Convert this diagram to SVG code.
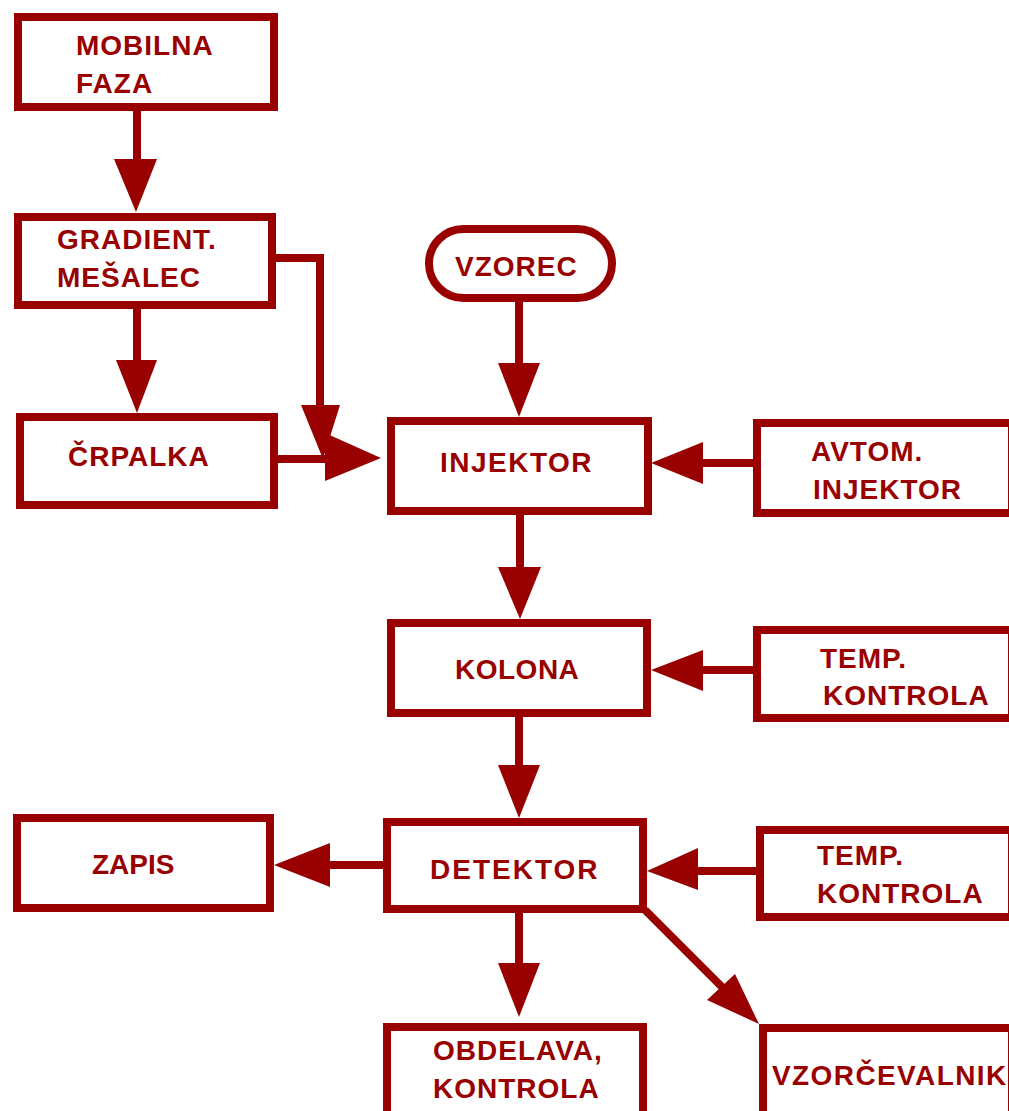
<svg xmlns="http://www.w3.org/2000/svg" width="1009" height="1111" viewBox="0 0 1009 1111">
<style>
.box{fill:#fff;stroke:#990000;stroke-width:8}
.ln{fill:none;stroke:#990000;stroke-width:8}
.ah{fill:#990000;stroke:none}
text{font-family:"Liberation Sans",Arial,sans-serif;font-weight:bold;font-size:28px;fill:#990000;letter-spacing:1px}
</style>
<rect x="0" y="0" width="1009" height="1111" fill="#fff"/>
<g id="connectors">
<line class="ln" x1="137" y1="111" x2="137" y2="162"/>
<polygon class="ah" points="114,159 157,159 136,212"/>
<line class="ln" x1="137" y1="309" x2="137" y2="362"/>
<polygon class="ah" points="116,360 157,360 137,413"/>
<polyline class="ln" points="276,258 320,258 320,408"/>
<polygon class="ah" points="301,405 340,405 323,459"/>
<line class="ln" x1="278" y1="459" x2="328" y2="459"/>
<polygon class="ah" points="325,433 325,481 381,458"/>
<line class="ln" x1="519" y1="302" x2="519" y2="366"/>
<polygon class="ah" points="498,363 540,363 519,417"/>
<line class="ln" x1="753" y1="463" x2="701" y2="463"/>
<polygon class="ah" points="703,442 703,484 651,463"/>
<line class="ln" x1="520" y1="515" x2="520" y2="570"/>
<polygon class="ah" points="498,567 541,567 520,619"/>
<line class="ln" x1="753" y1="670" x2="701" y2="670"/>
<polygon class="ah" points="703,650 703,691 651,670"/>
<line class="ln" x1="519" y1="717" x2="519" y2="768"/>
<polygon class="ah" points="498,765 540,765 519,818"/>
<line class="ln" x1="383" y1="865" x2="328" y2="865"/>
<polygon class="ah" points="330,843 330,887 274,865"/>
<line class="ln" x1="756" y1="871" x2="696" y2="871"/>
<polygon class="ah" points="698,848 698,890 647,871"/>
<line class="ln" x1="519" y1="913" x2="519" y2="966"/>
<polygon class="ah" points="498,963 540,963 519,1017"/>
<line class="ln" x1="645" y1="910" x2="724" y2="989"/>
<polygon class="ah" points="707,1000 735,974 759,1024"/>
</g>
<g id="mobilna-faza">
<rect class="box" x="18" y="17" width="256" height="90"/>
<text x="76" y="55">MOBILNA</text>
<text x="76" y="93">FAZA</text>
</g>
<g id="gradient-mesalec">
<rect class="box" x="18" y="217" width="254" height="88"/>
<text x="57" y="249">GRADIENT.</text>
<text x="57" y="287">MEŠALEC</text>
</g>
<g id="crpalka">
<rect class="box" x="20" y="417" width="254" height="88"/>
<text x="68" y="466">ČRPALKA</text>
</g>
<g id="vzorec">
<rect class="box" x="429" y="229" width="183" height="69" rx="34.5" ry="34.5"/>
<text x="455" y="276">VZOREC</text>
</g>
<g id="injektor">
<rect class="box" x="391" y="421" width="257" height="90"/>
<text x="440" y="472" style="letter-spacing:1.5px">INJEKTOR</text>
</g>
<g id="avtom-injektor">
<rect class="box" x="757" y="423" width="255" height="90"/>
<text x="811" y="461">AVTOM.</text>
<text x="813" y="499">INJEKTOR</text>
</g>
<g id="kolona">
<rect class="box" x="391" y="623" width="256" height="90"/>
<text x="455" y="679" style="letter-spacing:0.5px">KOLONA</text>
</g>
<g id="temp-kontrola-1">
<rect class="box" x="757" y="630" width="255" height="88"/>
<text x="820" y="668">TEMP.</text>
<text x="823" y="705">KONTROLA</text>
</g>
<g id="zapis">
<rect class="box" x="17" y="818" width="253" height="90"/>
<text x="92" y="874" style="letter-spacing:0px">ZAPIS</text>
</g>
<g id="detektor">
<rect class="box" x="387" y="822" width="256" height="87"/>
<text x="430" y="879" style="letter-spacing:2px">DETEKTOR</text>
</g>
<g id="temp-kontrola-2">
<rect class="box" x="760" y="830" width="252" height="87"/>
<text x="817" y="865">TEMP.</text>
<text x="817" y="903">KONTROLA</text>
</g>
<g id="obdelava-kontrola">
<rect class="box" x="387" y="1027" width="256" height="100"/>
<text x="433" y="1060">OBDELAVA,</text>
<text x="433" y="1098">KONTROLA</text>
</g>
<g id="vzorcevalnik">
<rect class="box" x="763" y="1028" width="249" height="100"/>
<text x="772" y="1085" style="letter-spacing:1.4px">VZORČEVALNIK</text>
</g>
</svg>
